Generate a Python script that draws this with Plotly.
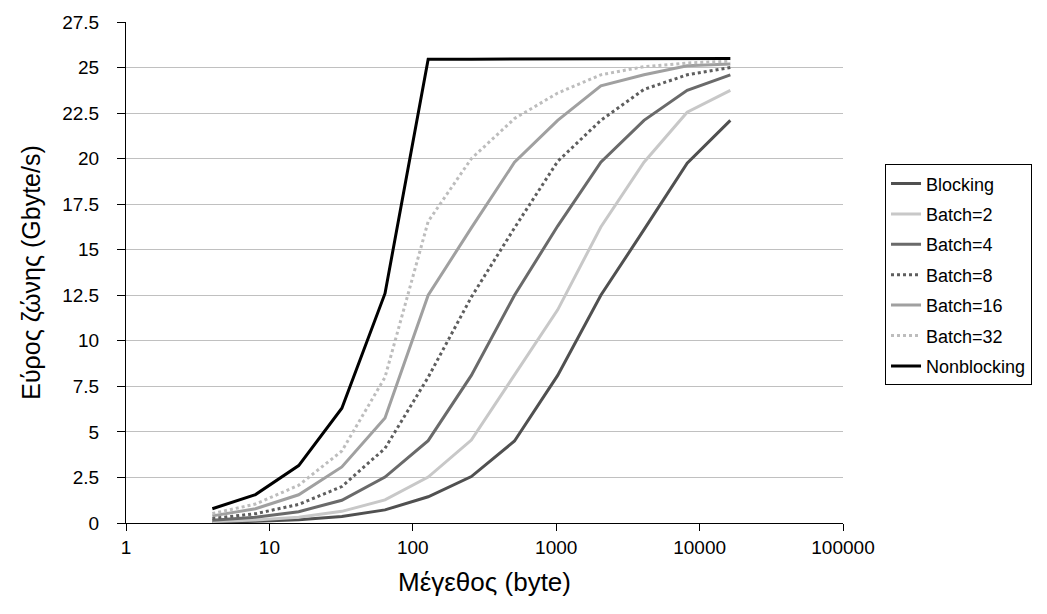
import plotly.graph_objects as go

sizes = [4, 8, 16, 32, 64, 128, 256, 512, 1024, 2048, 4096, 8192, 16384]
blocking = [0.05, 0.09, 0.18, 0.36, 0.72, 1.44, 2.55, 4.5, 8.1, 12.5, 16.1, 19.75, 22.1]
batch2 = [0.08, 0.16, 0.32, 0.64, 1.27, 2.52, 4.55, 8.1, 11.7, 16.25, 19.8, 22.55, 23.75]
batch4 = [0.15, 0.31, 0.62, 1.25, 2.52, 4.52, 8.1, 12.5, 16.3, 19.8, 22.1, 23.75, 24.6]
batch8 = [0.25, 0.51, 1.02, 2.0, 4.1, 8.0, 12.4, 16.2, 19.85, 22.1, 23.8, 24.6, 25.0]
batch16 = [0.39, 0.78, 1.55, 3.08, 5.76, 12.5, 16.2, 19.8, 22.1, 24.0, 24.6, 25.1, 25.2]
batch32 = [0.52, 1.04, 2.07, 3.95, 8.0, 16.55, 20.0, 22.2, 23.6, 24.6, 25.05, 25.25, 25.35]
nonblocking = [0.78, 1.56, 3.15, 6.3, 12.6, 25.45, 25.46, 25.47, 25.48, 25.49, 25.5, 25.5, 25.5]

series = [
    ("Blocking", blocking, "#505050", "solid"),
    ("Batch=2", batch2, "#c8c8c8", "solid"),
    ("Batch=4", batch4, "#6a6a6a", "solid"),
    ("Batch=8", batch8, "#5e5e5e", "3px,3px"),
    ("Batch=16", batch16, "#a0a0a0", "solid"),
    ("Batch=32", batch32, "#bdbdbd", "3px,3px"),
    ("Nonblocking", nonblocking, "#000000", "solid"),
]

x_tickvals = [1, 10, 100, 1000, 10000, 100000]
x_ticktext = ["1", "10", "100", "1000", "10000", "100000"]
y_tickvals = [0, 2.5, 5, 7.5, 10, 12.5, 15, 17.5, 20, 22.5, 25, 27.5]
y_ticktext = ["0", "2.5", "5", "7.5", "10", "12.5", "15", "17.5", "20", "22.5", "25", "27.5"]

FONT = "Liberation Sans, Arial, sans-serif"

fig = go.Figure()
for name, vals, color, dash in series:
    fig.add_trace(go.Scatter(
        x=sizes, y=vals, name=name, mode="lines", legendgroup=name,
        line=dict(color=color, width=3, dash=dash),
    ))

fig.update_layout(
    width=1047, height=614,
    margin=dict(l=126, r=204, t=18, b=91),
    paper_bgcolor="white", plot_bgcolor="white",
    font=dict(family=FONT, size=19, color="#000000"),
    showlegend=True,
    legend=dict(
        x=1.0586, y=0.716, xanchor="left", yanchor="top",
        bordercolor="#000000", borderwidth=1,
        font=dict(family=FONT, size=18, color="#000000"),
        itemwidth=30, tracegroupgap=4,
    ),
)
fig.update_xaxes(
    type="log", range=[0, 5],
    tickvals=x_tickvals, ticktext=x_ticktext,
    ticks="outside", ticklen=7, tickcolor="#000000", tickwidth=1,
    showline=True, linecolor="#000000", linewidth=1,
    showgrid=False, zeroline=False,
    title=dict(text="Μέγεθος (byte)", font=dict(family=FONT, size=26), standoff=16),
    tickfont=dict(family=FONT, size=19),
)
fig.update_yaxes(
    range=[0, 27.5],
    tickvals=y_tickvals, ticktext=y_ticktext,
    ticks="outside", ticklen=8, tickcolor="#000000", tickwidth=1,
    ticklabelstandoff=14,
    showline=True, linecolor="#000000", linewidth=1,
    showgrid=True, gridcolor="#c0c0c0", gridwidth=1,
    zeroline=False,
    title=dict(text="Εύρος ζώνης (Gbyte/s)", font=dict(family=FONT, size=25), standoff=14),
    tickfont=dict(family=FONT, size=19),
)

fig.write_html("out.html")
